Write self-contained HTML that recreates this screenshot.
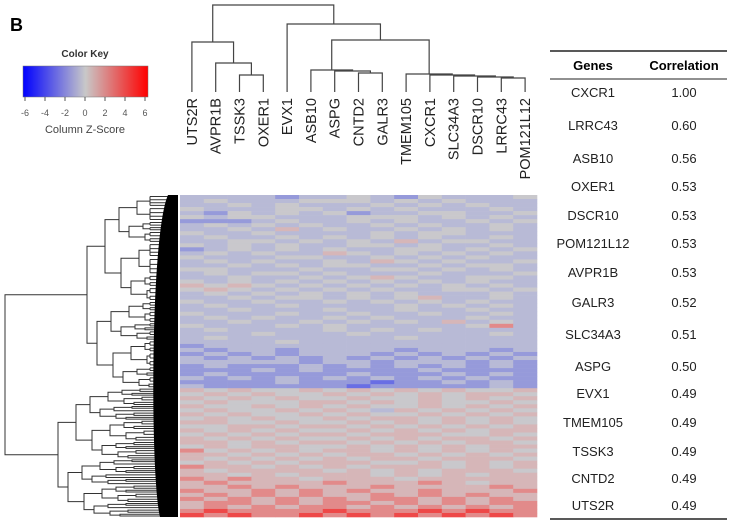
<!DOCTYPE html>
<html><head><meta charset="utf-8"><style>
body{margin:0;background:#fff;width:731px;height:525px;overflow:hidden;font-family:"Liberation Sans",Arial,sans-serif}
svg{display:block}
</style></head><body>
<svg id="chart" width="731" height="525" font-family="Liberation Sans, Arial, sans-serif">
<defs><linearGradient id="ck" x1="0" x2="1"><stop offset="0" stop-color="#0000ff"/><stop offset="0.5" stop-color="#c8c8c8"/><stop offset="1" stop-color="#ff0000"/></linearGradient></defs>
<text x="10" y="31" font-size="18" font-weight="bold">B</text>
<g>
<text x="85" y="57" font-size="10" font-weight="bold" text-anchor="middle" fill="#333">Color Key</text>
<rect x="23" y="66" width="125" height="31" fill="url(#ck)" stroke="#777" stroke-width="0.5"/>
<g id="ckticks" stroke="#555"></g>
<text x="85" y="133" font-size="11" text-anchor="middle" fill="#444">Column Z-Score</text>
</g>
<g id="coldend" stroke="#444" stroke-width="1.2" fill="none"></g>
<g id="collabels"></g>
<g id="rowdend" stroke="#333" stroke-width="1" fill="none"></g>
<g id="heat"></g>
<g id="table"></g>
</svg>
<script>
const genesCols=["UTS2R","AVPR1B","TSSK3","OXER1","EVX1","ASB10","ASPG","CNTD2","GALR3","TMEM105","CXCR1","SLC34A3","DSCR10","LRRC43","POM121L12"];
const keyTicks=[-6,-4,-2,0,2,4,6];
const tableGenes=["CXCR1","LRRC43","ASB10","OXER1","DSCR10","POM121L12","AVPR1B","GALR3","SLC34A3","ASPG","EVX1","TMEM105","TSSK3","CNTD2","UTS2R"];
const tableCorr=["1.00","0.60","0.56","0.53","0.53","0.53","0.53","0.52","0.51","0.50","0.49","0.49","0.49","0.49","0.49"];
const heatRows=["222212232132223","232223332323222","223232223232322","322233232322232","213232312233223","323322233323232","111232232322323","232323223232232","223242322323232","322322223233222","232232323232232","223323232423322","323232233232232","123232322332323","232322432323232","322233223232322","232322324323223","223232332232332","332223223323232","232332322232223","223223234322332","323232323232322","434323232323232","343232323223323","232323232322232","223233232342232","322322323232322","232232222323232","223222322322322","322232232232232","232322323222322","223223232324232","322232322222352","232222323232222","222322232222232","232222222322222","222232222222222","122222222222222","212212222122212","121212221212121","212121212121212","222221221222121","121112121212121","111212111121111","121111121112121","212121212121211","111121110112121","211111101111121","434334343434334","343433434343443","434343343343434","343334434343343","433434343343434","343343432434343","434334343343434","343433434434343","443343343434343","334434434343434","434343343434344","343434434443343","434343343434434","443434434343443","343443343434344","534343443434343","443434344343434","434343434434443","343434443343434","544343434443434","434444343434443","443434443434344","545443444344444","454444544454344","445454445444454","544545454454445","454545445454544","545454545545454","455454554545455","454545545454545","565555655565655","656556565656565"];
const NS="http://www.w3.org/2000/svg";
function mk(tag,attrs,parent){const e=document.createElementNS(NS,tag);for(const k in attrs)e.setAttribute(k,attrs[k]);parent.appendChild(e);return e;}
const ckx=v=>25+(v+6)/12*120;
const ckg=document.getElementById('ckticks');
keyTicks.forEach(t=>{mk('line',{x1:ckx(t),x2:ckx(t),y1:97,y2:101},ckg);const tx=mk('text',{x:ckx(t),y:116,'font-size':9,'text-anchor':'middle',fill:'#555',stroke:'none'},ckg);tx.textContent=t;

});
const hx0=180,hx1=537,hy0=195,hy1=517;
const cw=(hx1-hx0)/genesCols.length, rh=(hy1-hy0)/heatRows.length;
const colX=i=>hx0+cw*(i+0.5);
const pal=[[105,110,228],[150,154,218],[184,186,214],[201,200,204],[214,182,184],[226,138,138],[238,72,72]];
function col(v){const c=pal[Math.max(0,Math.min(6,v))];return `rgb(${c.join(',')})`;}
const hg=document.getElementById('heat');
heatRows.forEach((r,ri)=>{for(let ci=0;ci<r.length;ci++){const v=+r[ci];
 const e=mk('rect',{x:(hx0+ci*cw).toFixed(2),y:(hy0+ri*rh).toFixed(2),width:(cw+0.3).toFixed(2),height:(rh+0.3).toFixed(2),fill:col(v)},hg);
 
 }});
const cl=document.getElementById('collabels');
genesCols.forEach((g,i)=>{const x=colX(i)+5;const t=mk('text',{x:x,y:98,'font-size':14.5,'text-anchor':'end',fill:'#222',transform:`rotate(-90 ${x} 98)`},cl);t.textContent=g;

});
const cd=document.getElementById('coldend');
const leafY=92;
function node(l,r,y){return{l,r,y};}
const T=
 node(
  node(0,node(1,node(2,3,75),63),42),
  node(4,node(node(5,node(6,node(7,8,73),71),70),node(9,node(10,node(11,node(12,node(13,14,78),77),76),75),74),40),24),5);
function draw(n){if(typeof n==='number')return{x:colX(n),y:leafY};
 const a=draw(n.l),b=draw(n.r);
 mk('path',{d:`M${a.x},${a.y}V${n.y}H${b.x}V${b.y}`},cd);return{x:(a.x+b.x)/2,y:n.y};}
draw(T);
const rd=document.getElementById('rowdend');
function rtree(y0,y1,x,depth){
 if(depth>=7||y1-y0<3){mk('path',{d:`M${x},${(y0+y1)/2}H178`},rd);return (y0+y1)/2;}
 const f=depth===0?48/80:(depth%2?0.55:0.45);
 const ym=y0+(y1-y0)*f;
 const step=depth===0?[82,53]:[14,10];
 const xa=x+(depth===0?step[0]:step[0]+ (depth%2)*4), xb=x+(depth===0?step[1]:step[1]+((depth+1)%2)*6);
 const a=rtree(y0,ym,Math.min(xa,150),depth+1), b=rtree(ym,y1,Math.min(xb,150),depth+1);
 mk('path',{d:`M${Math.min(xa,150)},${a}H${x}V${b}H${Math.min(xb,150)}`},rd);return (a+b)/2;}
rtree(hy0,hy1,5,0);
mk('path',{d:`M178,${hy0}H168C150,${hy0+40} 150,${hy1-40} 160,${hy1}H178Z`,fill:'#000',stroke:'none'},rd);
const tb=document.getElementById('table');
mk('line',{x1:550,x2:727,y1:51,y2:51,stroke:'#222','stroke-width':1.5},tb);
mk('line',{x1:550,x2:727,y1:79,y2:79,stroke:'#222','stroke-width':1},tb);
mk('line',{x1:550,x2:727,y1:519,y2:519,stroke:'#222','stroke-width':1.5},tb);
const h1=mk('text',{x:593,y:70,'font-size':13,'font-weight':'bold','text-anchor':'middle'},tb);h1.textContent='Genes';
const h2=mk('text',{x:684,y:70,'font-size':13,'font-weight':'bold','text-anchor':'middle'},tb);h2.textContent='Correlation';
const rowY=[97,130,163,191,220,248,277,307,339,371,398,427,456,483,510];
tableGenes.forEach((g,i)=>{const a=mk('text',{x:593,y:rowY[i],'font-size':13,'text-anchor':'middle',fill:'#222'},tb);a.textContent=g;


const b=mk('text',{x:684,y:rowY[i],'font-size':13,'text-anchor':'middle',fill:'#222'},tb);b.textContent=tableCorr[i];

});
</script>
</body></html>
